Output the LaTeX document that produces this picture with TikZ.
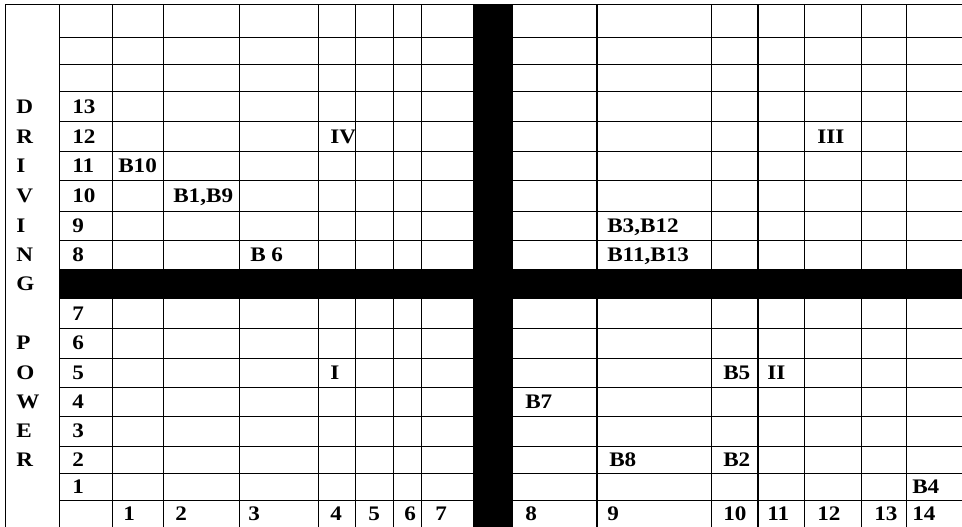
\documentclass[tikz,border=0pt]{standalone}
\usepackage{fontspec}
\setmainfont{Liberation Serif}[FakeStretch=1.12]

\begin{document}
\begin{tikzpicture}[
  x=0.75pt, y=-0.75pt,
  font=\fontsize{15.5}{18}\selectfont\bfseries,
  grid/.style={line width=0.75pt},
  heavy/.style={line width=1.5pt},
  bar/.style={fill=black},
  lbl/.style={anchor=base west, inner sep=0pt}]
\useasboundingbox (0,0) rectangle (962,527);
% grid lines
\draw[grid] (5,5) -- (962,5);
\foreach \y in {38,65,92,122,152,181,211,240,328,358,387,416,446,473,500}
  \draw[grid] (59,\y) -- (962,\y);
\foreach \x in {5,59,112,163,239,318,355,393,421,711,804,861,906}
  \draw[grid] (\x,5) -- (\x,527);
\draw[heavy] (597,5) -- (597,527);
\draw[heavy] (758,5) -- (758,527);
% the two black bars
\fill[bar] (473,5) rectangle (513,527);
\fill[bar] (59,269) rectangle (962,299);
% left caption, one letter per row
\foreach \c/\y [count=\i] in {D/107,R/137,I/166.5,V/196,I/225.5,N/254.5,
    G/284,P/343,O/372.5,W/401.5,E/431,R/459.5}
  \node[lbl] (dp\i) at (16,\y+6.5) {\c};
% row numbers
\foreach \n/\y in {13/107,12/137,11/166.5,10/196,9/225.5,8/254.5,
    7/313.5,6/343,5/372.5,4/401.5,3/431,2/459.5,1/486.5}
  \node[lbl] (r\n) at (72,\y+6.5) {\n};
% column numbers
\foreach \n/\x in {1/123,2/175,3/248,4/330,5/368,6/404,7/435,8/525,
    9/607,10/723,11/767,12/817,13/874,14/912}
  \node[lbl] (c\n) at (\x,520) {\n};
% quadrant marks
\node[lbl] (qiv) at (330,143.5) {IV};
\node[lbl] (qiii) at (817,143.5) {III};
\node[lbl] (qi) at (330,379) {I};
\node[lbl] (qii) at (767,379) {II};
% barriers
\node[lbl] (b10) at (118,173) {B10};
\node[lbl] (b1b9) at (173,202.5) {B1,B9};
\node[lbl] (b3b12) at (607,232) {B3,B12};
\node[lbl] (b6) at (250,261) {B 6};
\node[lbl] (b11b13) at (607,261) {B11,B13};
\node[lbl] (b5) at (723,379) {B5};
\node[lbl] (b7) at (525,408) {B7};
\node[lbl] (b8) at (609,466) {B8};
\node[lbl] (b2) at (723,466) {B2};
\node[lbl] (b4) at (912,493) {B4};
\end{tikzpicture}
\end{document}
